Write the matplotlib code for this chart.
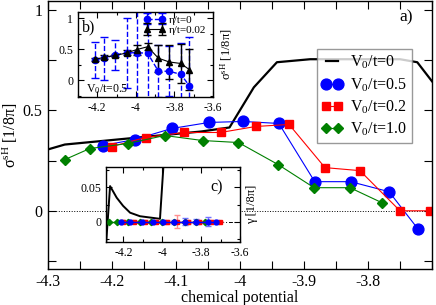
import numpy as np
import matplotlib
matplotlib.use("Agg")
import matplotlib.pyplot as plt
from matplotlib.ticker import MultipleLocator

plt.rcParams['font.family'] = ['Liberation Serif', 'DejaVu Serif']
plt.rcParams['mathtext.fontset'] = 'custom'
plt.rcParams['mathtext.rm'] = 'Liberation Serif'
plt.rcParams['mathtext.it'] = 'Liberation Serif:italic'
plt.rcParams['axes.unicode_minus'] = False

# ---- main panel data ----
v0_0_x = [-4.30, -4.273, -4.06, -4.016, -3.978, -3.942, -3.89, -3.75, -3.723, -3.70]
v0_0_y = [0.305, 0.33, 0.395, 0.415, 0.615, 0.74, 0.755, 0.755, 0.74, 0.645]

v05_x = [-4.214, -4.164, -4.106, -4.048, -3.995, -3.939, -3.883, -3.827, -3.767, -3.722]
v05_y = [0.325, 0.355, 0.41, 0.44, 0.445, 0.435, 0.145, 0.145, 0.095, -0.09]

v02_x = [-4.20, -4.147, -4.0875, -4.03, -3.975, -3.923, -3.867, -3.8125, -3.75, -3.703]
v02_y = [0.32, 0.365, 0.39, 0.39, 0.42, 0.43, 0.215, 0.20, 0.0, 0.0]

v10_x = [-4.273, -4.234, -4.175, -4.117, -4.058, -4.002, -3.94, -3.884, -3.828, -3.778]
v10_y = [0.255, 0.31, 0.335, 0.375, 0.35, 0.34, 0.23, 0.115, 0.115, 0.04]

# ---- inset b data ----
eta0_y = v05_y
eta0_err = [0.29, 0.35, 0.245, 0.57, 1.2, 0.8, 0.42, 0.4, 0.5, 0.78]
eta002_y = [0.335, 0.37, 0.40, 0.44, 0.495, 0.54, 0.355, 0.295, 0.27, 0.17]
eta002_err = [0.03, 0.03, 0.03, 0.04, 0.08, 0.06, 0.22, 0.27, 0.31, 0.33]

# ---- inset c data ----
gam_x = [-4.29, -4.269, -4.235, -4.202, -4.166, -4.115, -4.012, -3.99, -3.97]
gam_y = [-0.035, 0.052, 0.035, 0.023, 0.013, 0.0078, 0.004, 0.1, 0.3]
gam_v05 = [0, 0, 0, 0, 0, 0, 0, 0, 0, 0]
gam_v05_err = [0.002, 0.002, 0.002, 0.002, 0.002, 0.003, 0.005, 0.004, 0.006, 0.003]
gam_v02 = [0, 0, 0, 0, 0, 0, 0, 0, 0, 0]
gam_v02_err = [0.002, 0.002, 0.002, 0.002, 0.003, 0.009, 0.003, 0.003, 0.002, 0.001]
gam_v10 = [0, 0, 0, 0, 0, 0, 0, 0, 0, 0]

W, H = 436, 305
fig = plt.figure(figsize=(W / 100, H / 100), dpi=100)

def px_axes(x0, y0, x1, y1):
    return fig.add_axes([x0 / W, 1 - y1 / H, (x1 - x0) / W, (y1 - y0) / H])

def style(ax, lab, maj, minr):
    ax.tick_params(which='both', direction='in', top=True, right=True, labelsize=lab, width=0.8)
    ax.tick_params(which='major', length=maj)
    ax.tick_params(which='minor', length=minr)
    for s in ax.spines.values():
        s.set_linewidth(1.0)

blue = '#0000ff'
red = '#ff0000'
green = '#008000'

# ---------- main ----------
ax = px_axes(47.5, 1, 432, 269)
ax.axhline(0, color='black', lw=0.7, ls=':')
ax.plot(v0_0_x, v0_0_y, color='black', lw=1.6, label='V$_0$/t=0')
ax.plot(v05_x, v05_y, color=blue, lw=0.8, marker='o', ms=7.8, label='V$_0$/t=0.5')
ax.plot(v02_x, v02_y, color=red, lw=0.8, marker='s', ms=6.3, label='V$_0$/t=0.2')
ax.plot(v10_x, v10_y, color=green, lw=0.8, marker='D', ms=5.3, label='V$_0$/t=1.0')
ax.set_xlim(-4.3, -3.7)
ax.set_ylim(-0.29, 1.045)
ax.xaxis.set_minor_locator(MultipleLocator(0.05))
ax.yaxis.set_minor_locator(MultipleLocator(0.25))
ax.set_xticks([-4.3, -4.2, -4.1, -4.0, -3.9, -3.8])
ax.set_xticklabels(['-4.3', '-4.2', '-4.1', '-4', '-3.9', '-3.8'])
ax.set_yticks([0, 0.5, 1])
ax.set_yticklabels(['0', '0.5', '1'])
style(ax, 11.5, 6, 6)
ax.set_xlabel('chemical potential', fontsize=11.5, labelpad=0)
ax.set_ylabel('σ$^{\\rm sH}$ [1/8π]', fontsize=11.5, labelpad=2)
ax.text(0.915, 0.925, 'a)', transform=ax.transAxes, fontsize=12.5)
leg = ax.legend(loc='upper left', bbox_to_anchor=(0.70, 0.82), fontsize=11.5,
                numpoints=2, handlelength=1.35, handletextpad=0.45, labelspacing=0.3,
                borderpad=0.3, fancybox=False, frameon=True, borderaxespad=0)
leg.get_frame().set_edgecolor('#808080')
leg.get_frame().set_linewidth(1.0)

# ---------- inset b ----------
axb = px_axes(78, 12, 213, 97)
axb.errorbar(v05_x, eta0_y, yerr=eta0_err, color=blue, lw=1.0, ls='--', marker='o', ms=4.5,
             capsize=3, elinewidth=1.0, label='η/t=0')[-1][0].set_linestyle('--')
axb.errorbar(v05_x, eta002_y, yerr=eta002_err, color='black', lw=0.8, marker='^', ms=4.5,
             capsize=3, elinewidth=1.0, label='η/t=0.02')
axb.set_xlim(-4.3, -3.6)
axb.set_ylim(-0.27, 1.1)
axb.set_xticks([-4.2, -4.0, -3.8, -3.6])
axb.set_xticklabels(['-4.2', '-4', '-3.8', '-3.6'])
axb.xaxis.set_minor_locator(MultipleLocator(0.1))
axb.set_yticks([0, 0.5, 1])
axb.set_yticklabels(['0', '0.5', '1'])
axb.yaxis.set_minor_locator(MultipleLocator(0.25))
style(axb, 8.5, 4, 2.5)
axb.yaxis.set_label_position('right')
axb.set_ylabel('σ$^{\\rm sH}$ [1/8π]', fontsize=9, labelpad=4)
axb.text(0.03, 0.77, 'b)', transform=axb.transAxes, fontsize=11.5)
axb.text(0.06, 0.06, 'V$_0$/t=0.5', transform=axb.transAxes, fontsize=8.5)
lb = axb.legend(loc='upper left', bbox_to_anchor=(0.455, 1.02), fontsize=8, frameon=False,
                numpoints=2, handlelength=1.9, handletextpad=0.35, labelspacing=0.05,
                borderaxespad=0, borderpad=0.4)

# ---------- inset c ----------
axc = px_axes(106, 167, 240, 242)
axc.axhline(0, color='black', lw=0.7, ls=(0, (4, 2, 1, 2)))
axc.plot(gam_x, gam_y, color='black', lw=1.4)
axc.errorbar(v02_x, gam_v02, yerr=gam_v02_err, color=red, lw=1.0, marker='s', ms=3.5,
             ecolor='#ff9090', capsize=2.5, elinewidth=1.0)
axc.errorbar(v05_x, gam_v05, yerr=gam_v05_err, color=blue, lw=1.0, marker='o', ms=3.5,
             ecolor='#7070ff', capsize=2.5, elinewidth=1.0)
axc.plot(v10_x, gam_v10, color=green, lw=1.0, marker='D', ms=3.2)
axc.set_xlim(-4.29, -3.6)
axc.set_ylim(-0.03, 0.08)
axc.set_xticks([-4.2, -4.0, -3.8, -3.6])
axc.set_xticklabels(['-4.2', '-4', '-3.8', '-3.6'])
axc.xaxis.set_minor_locator(MultipleLocator(0.1))
axc.set_yticks([0, 0.05])
axc.set_yticklabels(['0', '0.05'])
axc.yaxis.set_minor_locator(MultipleLocator(0.025))
style(axc, 8.5, 4, 2.5)
axc.yaxis.set_label_position('right')
axc.set_ylabel('γ [1/8π]', fontsize=9, labelpad=4)
axc.text(0.78, 0.68, 'c)', transform=axc.transAxes, fontsize=11.5)

fig.savefig('out.png', dpi=100)
